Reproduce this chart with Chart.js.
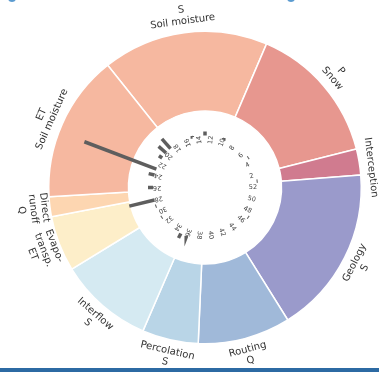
<!DOCTYPE html>
<html><head><meta charset="utf-8">
<script src="https://cdn.jsdelivr.net/npm/chart.js@4/dist/chart.umd.min.js"></script>
<style>
html,body{margin:0;padding:0;background:#fff;}
#wrap{position:relative;width:379px;height:372px;overflow:hidden;background:#fff;}
canvas{position:absolute;left:0;top:0;}
#bl{position:absolute;left:0;top:368px;width:379px;height:4px;background:#2c6aa3;}
.blob{position:absolute;top:-6px;width:8px;height:8px;border-radius:50%;background:#5b9bd0;}
</style></head><body>
<div id="wrap">
<canvas id="donut" width="379" height="372"></canvas>
<canvas id="bars" width="379" height="372"></canvas>
<div id="bl"></div>
<div class="blob" style="left:8px"></div>
<div class="blob" style="left:287px"></div>
</div>
<script>
// ---- Outer ring (process / category) ----
const segmentLabels = [
  ["S","Soil moisture"],["P","Snow"],["Interception"],["Geology","S"],["Routing","Q"],
  ["Percolation","S"],["Interflow","S"],["Evapo-","transp.","ET"],["Direct","runoff","Q"],["ET","Soil moisture"]
];
const segmentValues = [61.7, 52.5, 9.7, 62.6, 34.5, 20.9, 35.1, 20.7, 7.4, 54.9];
const segmentColors = ["#f6b8a0","#e7978f","#d07b8f","#9a9acb","#a0b9d9","#b9d5e7","#d5eaf2","#fdeec9","#fdd6b1","#f6b8a0"];

// ---- Inner radial bars (week 1..52) ----
const weeks = Array.from({length:52},(_,k)=>k+1);
const barValues = [
  1,0,0,0,1,0,0,0,0,1,   // 1-10
  0,0,4,0,1,0,0,0,13,10, // 11-20
  4,0,77,6,0,5,0,26,1,0, // 21-30
  1,0,0,0,5,1,0,0,0,0,   // 31-40
  0,0,0,0,0,0,1,0,0,0,   // 41-50
  0,0                    // 51-52
];
const tickWeeks = [2,4,6,8,10,12,14,16,18,20,22,24,26,28,30,32,34,36,38,40,42,44,46,48,50,52];
const tickLabels = tickWeeks.map(String);

const FONT = "'DejaVu Sans', sans-serif";

const outerLabelPlugin = {
  id:'outerLabels',
  afterDraw(chart){
    const ctx = chart.ctx;
    const meta = chart.getDatasetMeta(0);
    ctx.save();
    ctx.fillStyle = '#333';
    ctx.font = '10px ' + FONT;
    ctx.textAlign = 'center';
    ctx.textBaseline = 'middle';
    meta.data.forEach((arc, i) => {
      const p = arc.getProps(['x','y','startAngle','endAngle','outerRadius']);
      const lines = segmentLabels[i];
      let mid = (p.startAngle + p.endAngle)/2;
      let R = p.outerRadius + 17;
      if (lines.length === 1) { R = p.outerRadius + 11; mid += 0.045; }
      const x = p.x + R*Math.cos(mid), y = p.y + R*Math.sin(mid);
      let deg = (mid*180/Math.PI + 90) % 360; if (deg < 0) deg += 360;
      let rot = deg;
      if (deg > 90 && deg < 270) rot = deg - 180;
      ctx.save();
      ctx.translate(x, y);
      ctx.rotate(rot*Math.PI/180);
      const lh = 11.5;
      lines.forEach((t, k) => {
        ctx.fillText(t, 0, (k - (lines.length-1)/2)*lh);
      });
      ctx.restore();
    });
    ctx.restore();
  }
};

new Chart(document.getElementById('donut'), {
  type:'doughnut',
  data:{ labels: segmentLabels.map(l=>l.join(' ')), datasets:[{ data: segmentValues, backgroundColor: segmentColors, borderColor:'#ffffff', borderWidth:1.5 }]},
  options:{
    responsive:false, animation:false, rotation:-38.5, cutout:'49%',
    layout:{padding:{left:48,right:17,top:30.5,bottom:27.5}},
    plugins:{legend:{display:false}, tooltip:{enabled:false}}
  },
  plugins:[outerLabelPlugin]
});

// radial bars via linear x/y scales (1 unit = 1 px)
const R0 = 52;
const STEP = 2*Math.PI/52;
const barDatasets = [];
weeks.forEach((w, k) => {
  const v = barValues[k];
  if (!v) return;
  const a = w*STEP;
  barDatasets.push({
    type:'line',
    data:[{x:R0*Math.cos(a), y:R0*Math.sin(a)}, {x:(R0+v)*Math.cos(a), y:(R0+v)*Math.sin(a)}],
    borderColor:'#5e5e5e', borderWidth:3.5, pointRadius:0, borderCapStyle:'butt', fill:false
  });
});

const tickPlugin = {
  id:'ticks',
  afterDraw(chart){
    const ctx = chart.ctx, xs = chart.scales.x, ys = chart.scales.y;
    ctx.save();
    ctx.fillStyle = '#444';
    ctx.font = '6.5px ' + FONT;
    ctx.textAlign = 'center';
    ctx.textBaseline = 'middle';
    tickWeeks.forEach((w, k) => {
      const a = w*STEP, r = 48;
      const px = xs.getPixelForValue(r*Math.cos(a)), py = ys.getPixelForValue(r*Math.sin(a));
      ctx.save();
      ctx.translate(px, py);
      ctx.rotate(-a);
      ctx.fillText(tickLabels[k], 0, 0);
      ctx.restore();
    });
    ctx.restore();
  }
};

new Chart(document.getElementById('bars'), {
  type:'scatter',
  data:{ datasets: barDatasets },
  options:{
    responsive:false, animation:false,
    layout:{padding:0},
    scales:{ x:{type:'linear', min:-205, max:174, display:false}, y:{type:'linear', min:-184.5, max:187.5, display:false} },
    plugins:{legend:{display:false}, tooltip:{enabled:false}},
    elements:{line:{tension:0}}
  },
  plugins:[tickPlugin]
});
</script>
</body></html>
